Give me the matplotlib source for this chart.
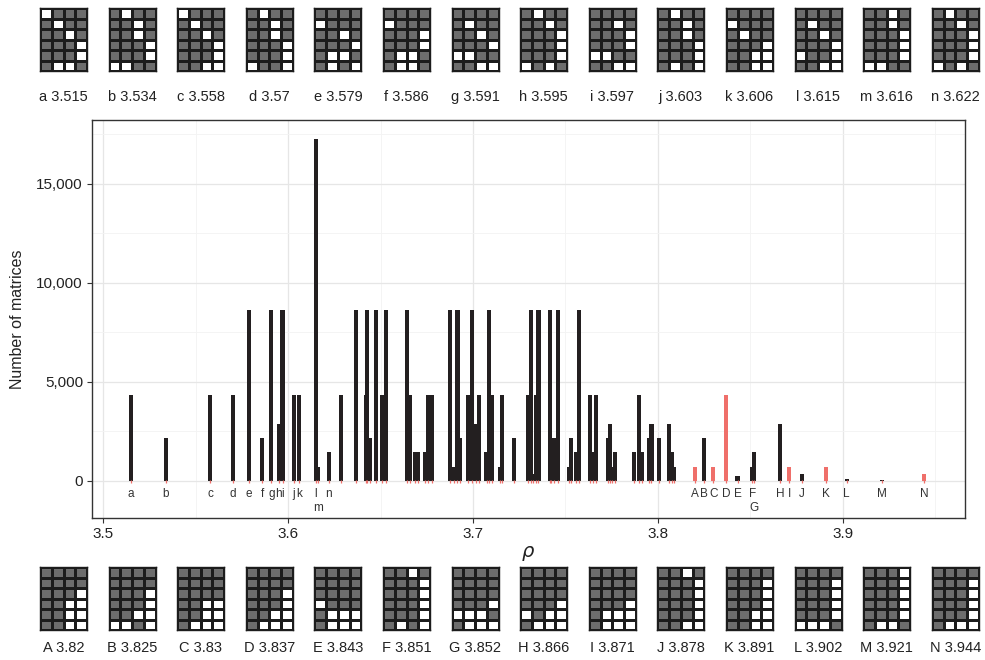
import matplotlib.pyplot as plt
import numpy as np
from matplotlib.colors import ListedColormap

plt.rcParams['font.family'] = ['Liberation Sans', 'DejaVu Sans']

# labelled matrices, top row (1 = grey cell, 0 = white cell, rows top to bottom)
top_names = list('abcdefghijklmn')
top_rho = [3.515, 3.534, 3.558, 3.57, 3.579, 3.586, 3.591,
           3.595, 3.597, 3.603, 3.606, 3.615, 3.616, 3.622]
top_counts = [4320, 2160, 4320, 4320, 8640, 2160, 8640,
              2880, 8640, 4320, 4320, 17280, 720, 1440]
top_mats = [
    ["0111", "1011", "1101", "1110", "1110", "1001"],  # a
    ["1011", "1101", "1101", "1110", "1110", "0011"],  # b
    ["0111", "1011", "1101", "1110", "1110", "1100"],  # c
    ["1011", "1101", "1101", "1110", "1110", "0110"],  # d
    ["1111", "0111", "1101", "1110", "1001", "1010"],  # e
    ["1111", "0111", "1110", "1110", "1001", "1001"],  # f
    ["1111", "1011", "1101", "1110", "0011", "1100"],  # g
    ["1011", "1101", "1110", "1110", "1110", "0101"],  # h
    ["1111", "1101", "1110", "1110", "0011", "1100"],  # i
    ["1011", "1101", "1101", "1110", "1110", "1010"],  # j
    ["1111", "0111", "1011", "1110", "1100", "1100"],  # k
    ["1111", "1011", "1101", "1110", "0110", "1100"],  # l
    ["1101", "1101", "1110", "1110", "1110", "0011"],  # m
    ["1011", "1101", "1110", "1110", "1110", "0101"],  # n
]

# labelled matrices, bottom row
bot_names = list('ABCDEFGHIJKLMN')
bot_rho = [3.82, 3.825, 3.83, 3.837, 3.843, 3.851, 3.852,
           3.866, 3.871, 3.878, 3.891, 3.902, 3.921, 3.944]
bot_counts = [720, 2160, 720, 4320, 240, 720, 1440,
              2880, 720, 360, 720, 120, 60, 360]
bot_red = [True, False, True, True, False, False, False,
           False, True, False, True, False, False, True]
bot_mats = [
    ["1111", "1111", "1110", "1100", "1100", "1100"],  # A
    ["1111", "1111", "1110", "1110", "1100", "0010"],  # B
    ["1111", "1111", "1111", "1100", "1100", "1000"],  # C
    ["1111", "1111", "1110", "1110", "1100", "1000"],  # D
    ["1111", "1111", "1111", "0111", "1000", "1000"],  # E
    ["1101", "1110", "1110", "1110", "1110", "1010"],  # F
    ["1111", "1111", "1111", "1110", "0001", "1000"],  # G
    ["1111", "1111", "1111", "1110", "0100", "1000"],  # H
    ["1111", "1111", "1111", "1110", "1000", "1000"],  # I
    ["1101", "1110", "1110", "1110", "1110", "1100"],  # J
    ["1111", "1110", "1110", "1110", "1100", "1100"],  # K
    ["1111", "1110", "1110", "1110", "1110", "0001"],  # L
    ["1110", "1110", "1110", "1110", "1110", "1001"],  # M
    ["1111", "1110", "1110", "1110", "1110", "1000"],  # N
]

# unlabelled spectral radii and their counts
mid_rho = [3.6286, 3.6368, 3.6419, 3.6427, 3.6443, 3.6476, 3.6508, 3.6532,
           3.6643, 3.6659, 3.6684, 3.6703, 3.6738, 3.6759, 3.6778,
           3.6876, 3.6897, 3.6916, 3.6932, 3.6973, 3.6997, 3.7014, 3.7032,
           3.7073, 3.7084, 3.7103, 3.7146, 3.7159, 3.7224,
           3.7295, 3.7311, 3.7327, 3.7341, 3.7354,
           3.7414, 3.7424, 3.7438, 3.7457, 3.7519, 3.7532, 3.7559, 3.7573,
           3.7632, 3.7649, 3.7665, 3.7730, 3.7741, 3.7754, 3.7770,
           3.7870, 3.7897, 3.7911, 3.7954, 3.7965, 3.8008,
           3.8059, 3.8076, 3.8089]
mid_counts = [4320, 8640, 4320, 8640, 2160, 8640, 4320, 8640,
              8640, 4320, 1440, 1440, 1440, 4320, 4320,
              8640, 720, 8640, 2160, 4320, 8640, 2880, 4320,
              1440, 8640, 4320, 720, 4320, 2160,
              4320, 8640, 360, 4320, 8640,
              8640, 1440, 2160, 8640, 720, 2160, 1440, 8640,
              4320, 1440, 4320, 2160, 2880, 720, 1440,
              1440, 4320, 1440, 2160, 2880, 2160,
              2880, 1440, 720]

second_row = ['m', 'G']

black = '#231f20'
red = '#ef6f6a'
grey = '#6d6d6d'

fig = plt.figure(figsize=(9.85, 6.6), dpi=100)
W, H = 985.0, 660.0

ax = fig.add_axes([92 / W, (H - 518) / H, 873 / W, 398 / H])

# bars
bw = 0.0022
ax.bar(top_rho, top_counts, width=bw, color=black, zorder=3)
ax.bar(mid_rho, mid_counts, width=bw, color=black, zorder=3)
bot_cols = [red if r else black for r in bot_red]
ax.bar(bot_rho, bot_counts, width=bw, color=bot_cols, zorder=3)

# small red rug ticks at every distinct value
all_rho = top_rho + mid_rho + bot_rho
ax.vlines(all_rho, -110, 70, color=red, lw=0.9, zorder=4)

# letters under the bars
for name, r in zip(top_names + bot_names, top_rho + bot_rho):
    yy = -1380 if name in second_row else -660
    ax.text(r, yy, name, ha='center', va='center', fontsize=8.5, color='#333333')

ax.set_xlim(3.494, 3.966)
ax.set_ylim(-1870, 18230)
ax.set_xticks([3.5, 3.6, 3.7, 3.8, 3.9])
ax.set_xticklabels(['3.5', '3.6', '3.7', '3.8', '3.9'])
ax.set_yticks([0, 5000, 10000, 15000])
ax.set_yticklabels(['0', '5,000', '10,000', '15,000'])
ax.set_xticks([3.55, 3.65, 3.75, 3.85, 3.95], minor=True)
ax.set_yticks([2500, 7500, 12500, 17500], minor=True)
ax.grid(which='major', color='#e6e6e6', lw=0.9, zorder=0)
ax.grid(which='minor', color='#f3f3f3', lw=0.6, zorder=0)
ax.set_axisbelow(True)
ax.tick_params(which='major', length=3.5, color='#333333', labelsize=11,
               labelcolor='#222222', pad=3)
ax.tick_params(which='minor', length=0)
for s in ax.spines.values():
    s.set_color('#333333')
    s.set_linewidth(1.0)
ax.set_ylabel('Number of matrices', fontsize=11.5, color='#222222', labelpad=8)
ax.set_xlabel(r'$\rho$', fontsize=14, color='#222222', labelpad=2)

# matrix thumbnails
cmap = ListedColormap(['white', grey])


def draw_matrix(rows, x0, ytop):
    m = np.array([[int(c) for c in r] for r in rows])
    mx = fig.add_axes([x0 / W, (H - ytop - 63) / H, 47 / W, 63 / H])
    mx.pcolormesh(m, cmap=cmap, vmin=0, vmax=1, edgecolors='#1c1c1c',
                  linewidth=0.75, snap=True)
    mx.set_xlim(0, 4)
    mx.set_ylim(6, 0)
    mx.set_xticks([])
    mx.set_yticks([])
    for s in mx.spines.values():
        s.set_color('#1c1c1c')
        s.set_linewidth(1.0)


for i in range(14):
    x0 = 40 + 68.6 * i
    cx = x0 + 23.5
    draw_matrix(top_mats[i], x0, 8)
    fig.text(cx / W, 1 - 97 / H, f"{top_names[i]} {top_rho[i]:g}",
             ha='center', va='center', fontsize=10.5, color='#222222')
    draw_matrix(bot_mats[i], x0, 567)
    fig.text(cx / W, 1 - 648 / H, f"{bot_names[i]} {bot_rho[i]:g}",
             ha='center', va='center', fontsize=10.5, color='#222222')

fig.savefig('out.png', dpi=100)
